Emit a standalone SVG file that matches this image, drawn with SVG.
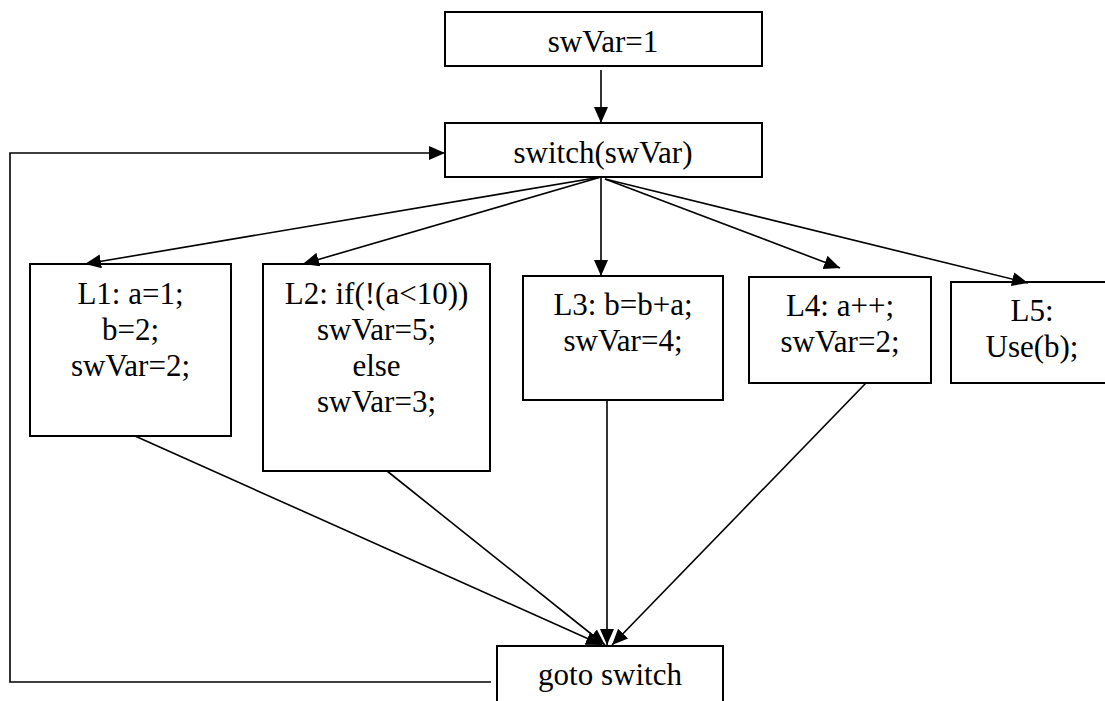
<svg xmlns="http://www.w3.org/2000/svg" width="1105" height="701" viewBox="0 0 1105 701">
<defs>
<marker id="ah" markerUnits="userSpaceOnUse" markerWidth="17" markerHeight="15" refX="16" refY="7" orient="auto">
<path d="M0,0 L16,7 L0,14 z" fill="#000"/>
</marker>
<style>
.box{fill:#fff;stroke:#000;stroke-width:2}
.t{font-family:'Liberation Serif','DejaVu Serif',serif;font-size:31px;fill:#000;text-anchor:middle}
.c{fill:none;stroke:#000;stroke-width:1.6}
</style>
</defs>
<rect width="1105" height="701" fill="#fff"/>
<g font-family="Liberation Serif, DejaVu Serif, serif">
<g id="n_init"><rect class="box" x="445" y="12" width="317" height="54"/><text class="t" x="603" y="52">swVar=1</text></g>
<g id="n_switch"><rect class="box" x="445" y="123" width="317" height="54"/><text class="t" x="603" y="163">switch(swVar)</text></g>
<g id="n_L1"><rect class="box" x="30" y="264" width="201" height="172"/><text class="t" x="130.5" y="304">L1: a=1;</text><text class="t" x="130.5" y="340">b=2;</text><text class="t" x="130.5" y="376">swVar=2;</text></g>
<g id="n_L2"><rect class="box" x="263" y="264" width="227" height="207"/><text class="t" x="376.5" y="304">L2: if(!(a&lt;10))</text><text class="t" x="376.5" y="340">swVar=5;</text><text class="t" x="376.5" y="376">else</text><text class="t" x="376.5" y="412">swVar=3;</text></g>
<g id="n_L3"><rect class="box" x="523" y="276" width="200" height="124"/><text class="t" x="623" y="315">L3: b=b+a;</text><text class="t" x="623" y="351">swVar=4;</text></g>
<g id="n_L4"><rect class="box" x="749" y="277" width="182" height="106"/><text class="t" x="840" y="316">L4: a++;</text><text class="t" x="840" y="352">swVar=2;</text></g>
<g id="n_L5"><rect class="box" x="951" y="282" width="162" height="101"/><text class="t" x="1032" y="321">L5:</text><text class="t" x="1032" y="357">Use(b);</text></g>
<g id="n_goto"><rect class="box" x="497" y="646" width="226" height="62"/><text class="t" x="610" y="685">goto switch</text></g>
</g>
<g id="connectors">
<line class="c" x1="601" y1="70" x2="601" y2="123" marker-end="url(#ah)"/>
<line class="c" x1="601" y1="177" x2="85" y2="264" marker-end="url(#ah)"/>
<line class="c" x1="601" y1="177" x2="303" y2="264" marker-end="url(#ah)"/>
<line class="c" x1="601" y1="177" x2="601" y2="276" marker-end="url(#ah)"/>
<line class="c" x1="605" y1="179" x2="840" y2="268" marker-end="url(#ah)"/>
<line class="c" x1="605" y1="179" x2="1028" y2="283" marker-end="url(#ah)"/>
<line class="c" x1="135" y1="436" x2="602" y2="645" marker-end="url(#ah)"/>
<line class="c" x1="387" y1="471" x2="605" y2="645" marker-end="url(#ah)"/>
<line class="c" x1="607" y1="400" x2="607" y2="645" marker-end="url(#ah)"/>
<line class="c" x1="866" y1="383" x2="612" y2="645" marker-end="url(#ah)"/>
<polyline class="c" points="491,682 10,682 10,153 445,153" marker-end="url(#ah)"/>
</g>
</svg>
